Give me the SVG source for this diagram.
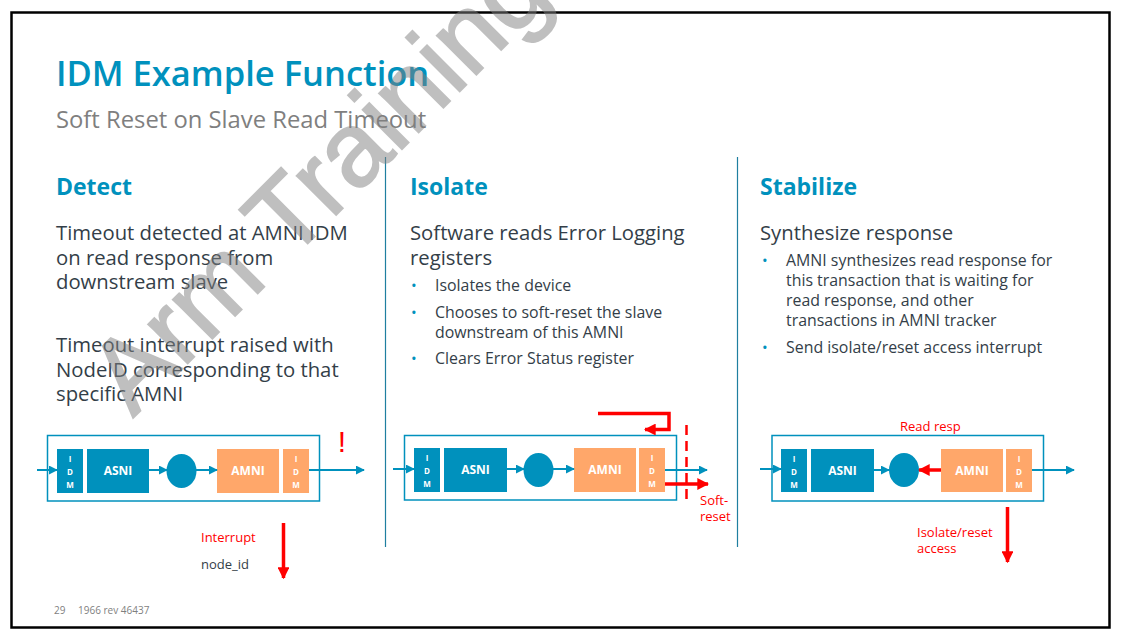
<svg xmlns="http://www.w3.org/2000/svg" width="1122" height="641" viewBox="0 0 1122 641">
<defs>
<style>
.t{font-family:"Open Sans","Noto Sans","Liberation Sans",sans-serif;}
.title{font-size:34.5px;font-weight:600;fill:#0091bd;}
.sub{font-size:23.8px;fill:#7f7f7f;}
.head{font-size:23px;font-weight:700;fill:#0091bd;}
.body{font-size:20.3px;fill:#333e48;}
.bul{font-size:15.9px;fill:#333e48;}
.dot{font-size:15px;fill:#0091bd;}
.lbl{font-size:13px;fill:#ff0000;}
.lbk{font-size:13px;fill:#333e48;}
.foot{font-size:10px;fill:#7f7f7f;}
.blue{fill:#0091bd;}
.org{fill:#ffa76a;}
.frame{fill:none;stroke:#0091bd;stroke-width:1.5;}
.bw{font-size:12px;font-weight:700;fill:#ffffff;text-anchor:middle;}
.bi{font-size:8px;font-weight:700;fill:#ffffff;text-anchor:middle;}
.cb{stroke:#0091bd;stroke-width:2;fill:none;}
.cr{stroke:#ff0000;stroke-width:3.5;fill:none;}
.div{stroke:#1f7fa0;stroke-width:1.2;}
</style>
<marker id="ab" viewBox="0 0 10 10" refX="9" refY="5" markerWidth="4.5" markerHeight="4.5" orient="auto" markerUnits="strokeWidth"><path d="M0,0 L10,5 L0,10 z" fill="#0091bd"/></marker>
<marker id="ar" viewBox="0 0 10 10" refX="9" refY="5" markerWidth="3.4" markerHeight="3.4" orient="auto" markerUnits="strokeWidth"><path d="M0,0 L10,5 L0,10 z" fill="#ff0000"/></marker>
</defs>
<rect width="1122" height="641" fill="#ffffff"/>
<rect x="11.5" y="12.5" width="1098" height="615" fill="none" stroke="#000000" stroke-width="2.5"/>

<g id="titles" class="t">
<text class="title" x="56" y="86">IDM Example Function</text>
<text class="sub" x="56" y="128">Soft Reset on Slave Read Timeout</text>
</g>

<g id="dividers">
<line class="div" x1="385.5" y1="157" x2="385.5" y2="547"/>
<line class="div" x1="737.5" y1="157" x2="737.5" y2="547"/>
</g>

<g id="detect-text" class="t">
<text class="head" x="56" y="195">Detect</text>
<text class="body" x="56" y="240">Timeout detected at AMNI IDM</text>
<text class="body" x="56" y="265">on read response from</text>
<text class="body" x="56" y="289">downstream slave</text>
<text class="body" x="56" y="352">Timeout interrupt raised with</text>
<text class="body" x="56" y="377">NodeID corresponding to that</text>
<text class="body" x="56" y="401">specific AMNI</text>
</g>

<g id="isolate-text" class="t">
<text class="head" x="410" y="195">Isolate</text>
<text class="body" x="410" y="240">Software reads Error Logging</text>
<text class="body" x="410" y="265">registers</text>
<text class="dot" x="411" y="291">•</text>
<text class="bul" x="435" y="291">Isolates the device</text>
<text class="dot" x="411" y="318">•</text>
<text class="bul" x="435" y="318">Chooses to soft-reset the slave</text>
<text class="bul" x="435" y="338">downstream of this AMNI</text>
<text class="dot" x="411" y="364">•</text>
<text class="bul" x="435" y="364">Clears Error Status register</text>
</g>

<g id="stabilize-text" class="t">
<text class="head" x="760" y="195">Stabilize</text>
<text class="body" x="760" y="240">Synthesize response</text>
<text class="dot" x="762" y="266">•</text>
<text class="bul" x="786" y="266">AMNI synthesizes read response for</text>
<text class="bul" x="786" y="286">this transaction that is waiting for</text>
<text class="bul" x="786" y="306">read response, and other</text>
<text class="bul" x="786" y="326">transactions in AMNI tracker</text>
<text class="dot" x="762" y="353">•</text>
<text class="bul" x="786" y="353">Send isolate/reset access interrupt</text>
</g>

<g id="diagram1" class="t">
<rect class="frame" x="47.5" y="435.5" width="272" height="65.5"/>
<rect class="blue" x="57" y="449" width="26" height="44"/>
<text class="bi" x="70" y="462">I</text><text class="bi" x="70" y="475">D</text><text class="bi" x="70" y="488">M</text>
<rect class="blue" x="87" y="449" width="62" height="44"/>
<text class="bw" x="118" y="475">ASNI</text>
<ellipse class="blue" cx="181.5" cy="471" rx="15" ry="17"/>
<rect class="org" x="217" y="449" width="62" height="44"/>
<text class="bw" x="248" y="475">AMNI</text>
<rect class="org" x="283" y="449" width="26" height="44"/>
<text class="bi" x="296" y="462">I</text><text class="bi" x="296" y="475">D</text><text class="bi" x="296" y="488">M</text>
<text x="342" y="452" font-size="30" fill="#ff0000" text-anchor="middle" font-family="Liberation Sans, sans-serif">!</text>
<text class="lbl" x="201" y="542">Interrupt</text>
<text class="lbk" x="201" y="569">node_id</text>
</g>

<g id="diagram2" class="t">
<rect class="frame" x="404.5" y="435.5" width="272" height="64.5"/>
<rect class="blue" x="414" y="448" width="26" height="44"/>
<text class="bi" x="427" y="461">I</text><text class="bi" x="427" y="474">D</text><text class="bi" x="427" y="487">M</text>
<rect class="blue" x="444" y="448" width="63" height="44"/>
<text class="bw" x="475.5" y="474">ASNI</text>
<ellipse class="blue" cx="538.5" cy="470" rx="15" ry="17"/>
<rect class="org" x="574" y="448" width="62" height="44"/>
<text class="bw" x="605" y="474">AMNI</text>
<rect class="org" x="639" y="448" width="26" height="44"/>
<text class="bi" x="652" y="461">I</text><text class="bi" x="652" y="474">D</text><text class="bi" x="652" y="487">M</text>
<text class="lbl" x="700" y="505">Soft-</text>
<text class="lbl" x="700" y="521">reset</text>
</g>

<g id="diagram3" class="t">
<rect class="frame" x="772" y="435.5" width="271.5" height="65.5"/>
<rect class="blue" x="781" y="449" width="26" height="43"/>
<text class="bi" x="794" y="462">I</text><text class="bi" x="794" y="475">D</text><text class="bi" x="794" y="488">M</text>
<rect class="blue" x="811" y="449" width="63" height="43"/>
<text class="bw" x="842.5" y="475">ASNI</text>
<ellipse class="blue" cx="904" cy="470" rx="15" ry="17"/>
<rect class="org" x="941" y="449" width="62" height="43"/>
<text class="bw" x="972" y="475">AMNI</text>
<rect class="org" x="1006" y="449" width="26" height="43"/>
<text class="bi" x="1019" y="462">I</text><text class="bi" x="1019" y="475">D</text><text class="bi" x="1019" y="488">M</text>
<text class="lbl" x="900" y="431">Read resp</text>
<text class="lbl" x="917" y="537">Isolate/reset</text>
<text class="lbl" x="917" y="553">access</text>
</g>

<g id="connectors">
<line class="cb" x1="37" y1="470" x2="57" y2="470" marker-end="url(#ab)"/>
<line class="cb" x1="149" y1="470" x2="167" y2="470" marker-end="url(#ab)"/>
<line class="cb" x1="196" y1="470" x2="217" y2="470" marker-end="url(#ab)"/>
<line class="cb" x1="309" y1="470" x2="364" y2="470" marker-end="url(#ab)"/>
<line class="cr" x1="283.5" y1="523" x2="283.5" y2="578" marker-end="url(#ar)"/>

<line class="cb" x1="393" y1="469" x2="414" y2="469" marker-end="url(#ab)"/>
<line class="cb" x1="507" y1="469" x2="524" y2="469" marker-end="url(#ab)"/>
<line class="cb" x1="553" y1="469" x2="574" y2="469" marker-end="url(#ab)"/>
<line class="cb" x1="665" y1="470" x2="707" y2="470" marker-end="url(#ab)"/>
<line class="cr" x1="665" y1="484" x2="708" y2="484" marker-end="url(#ar)"/>
<polyline class="cr" points="598,413.5 669,413.5 669,429.5 645,429.5" marker-end="url(#ar)"/>
<line x1="686.5" y1="425" x2="686.5" y2="504" stroke="#ff0000" stroke-width="2.5" stroke-dasharray="10,6"/>

<line class="cb" x1="760" y1="469" x2="781" y2="469" marker-end="url(#ab)"/>
<line class="cb" x1="874" y1="470" x2="889" y2="470" marker-end="url(#ab)"/>
<line class="cr" x1="941" y1="470" x2="919" y2="470" marker-end="url(#ar)"/>
<line class="cb" x1="1032" y1="470" x2="1074" y2="470" marker-end="url(#ab)"/>
<line class="cr" x1="1007.5" y1="507" x2="1007.5" y2="562" marker-end="url(#ar)"/>
</g>

<g id="footer" class="t">
<text class="foot" x="54" y="614">29</text>
<text class="foot" x="78" y="614">1966 rev 46437</text>
</g>

<g id="watermark" opacity="0.5">
<text x="133" y="418" transform="rotate(-45 133 418)" font-family="Liberation Sans, Arial, sans-serif" font-size="105" fill="#808080" stroke="#808080" stroke-width="2">Arm Training</text>
</g>
</svg>
